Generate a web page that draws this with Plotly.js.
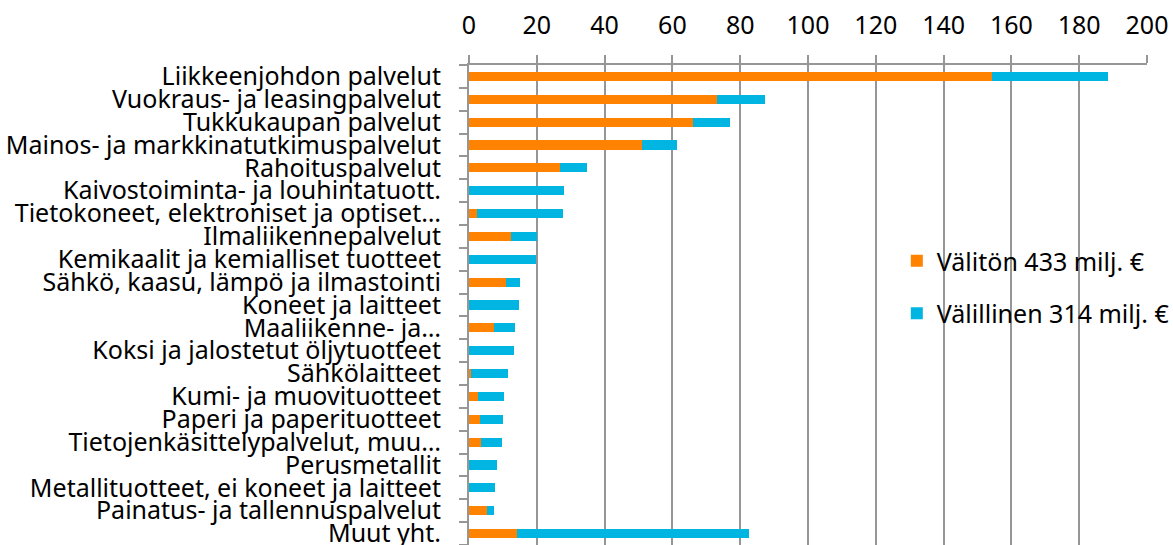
<!DOCTYPE html>
<html>
<head>
<meta charset="utf-8">
<script src="https://cdn.plot.ly/plotly-3.0.1.min.js"></script>
<style>html,body{margin:0;padding:0;background:#fff;}#chart{width:1173px;height:545px;}</style>
</head>
<body>
<div id="chart"></div>
<script>
const categories = [
  "Liikkeenjohdon palvelut",
  "Vuokraus- ja leasingpalvelut",
  "Tukkukaupan palvelut",
  "Mainos- ja markkinatutkimuspalvelut",
  "Rahoituspalvelut",
  "Kaivostoiminta- ja louhintatuott.",
  "Tietokoneet, elektroniset ja optiset…",
  "Ilmaliikennepalvelut",
  "Kemikaalit ja kemialliset tuotteet",
  "Sähkö, kaasu, lämpö ja ilmastointi",
  "Koneet ja laitteet",
  "Maaliikenne- ja…",
  "Koksi ja jalostetut öljytuotteet",
  "Sähkölaitteet",
  "Kumi- ja muovituotteet",
  "Paperi ja paperituotteet",
  "Tietojenkäsittelypalvelut, muu…",
  "Perusmetallit",
  "Metallituotteet, ei koneet ja laitteet",
  "Painatus- ja tallennuspalvelut",
  "Muut yht."
];
const valiton = [154.3, 73.3, 66.0, 50.9, 26.7, 0, 2.4, 12.5, 0, 11.0, 0, 7.5, 0, 0.6, 2.7, 3.2, 3.5, 0, 0, 5.4, 14.2];
const valillinen = [34.1, 14.0, 11.0, 10.4, 8.1, 27.9, 25.3, 7.7, 19.8, 4.0, 14.7, 6.1, 13.2, 10.8, 7.6, 6.8, 6.3, 8.4, 7.6, 2.1, 68.3];
const seriesNames = ["Välitön 433 milj. €", "Välillinen 314 milj. €"];
const xTicks = [0, 20, 40, 60, 80, 100, 120, 140, 160, 180, 200];

const FONT = "Noto Sans, Open Sans, sans-serif";
const traces = [
  {type: "bar", orientation: "h", name: seriesNames[0], y: categories, x: valiton,
   marker: {color: "#FF8200"}, legendgroup: "a"},
  {type: "bar", orientation: "h", name: seriesNames[1], y: categories, x: valillinen,
   marker: {color: "#00B5E2"}, legendgroup: "b"}
];
const layout = {
  width: 1173, height: 545,
  margin: {l: 469, r: 26, t: 65, b: 0, pad: 0, autoexpand: false},
  barmode: "stack",
  bargap: 0.6,
  paper_bgcolor: "#fff", plot_bgcolor: "#fff",
  font: {family: FONT, size: 25, color: "#000"},
  xaxis: {
    side: "top", range: [0, 200], tickmode: "array", tickvals: xTicks, ticktext: xTicks.map(String),
    showgrid: true, gridcolor: "#969696", gridwidth: 2, automargin: false,
    showline: true, linecolor: "#969696", linewidth: 2,
    ticks: "outside", ticklen: 8, tickcolor: "#969696", tickwidth: 2,
    ticklabelstandoff: 11, zeroline: false,
    tickfont: {family: FONT, size: 25, color: "#000"}, fixedrange: true
  },
  yaxis: {
    type: "category", autorange: "reversed", automargin: false,
    tickmode: "array", tickvals: categories, ticktext: categories,
    showline: true, linecolor: "#969696", linewidth: 2,
    ticks: "outside", ticklen: 8, tickcolor: "#969696", tickwidth: 2,
    tickson: "boundaries", showgrid: false, ticklabelstandoff: 21,
    tickfont: {family: FONT, size: 25, color: "#000"}, fixedrange: true
  },
  showlegend: true,
  legend: {x: 0.631, xanchor: "left", y: 0.5375, yanchor: "middle",
    traceorder: "grouped", tracegroupgap: 17, bgcolor: "rgba(0,0,0,0)",
    font: {family: FONT, size: 25, color: "#000"}}
};
Plotly.newPlot("chart", traces, layout, {displayModeBar: false, staticPlot: true});
</script>
</body>
</html>
